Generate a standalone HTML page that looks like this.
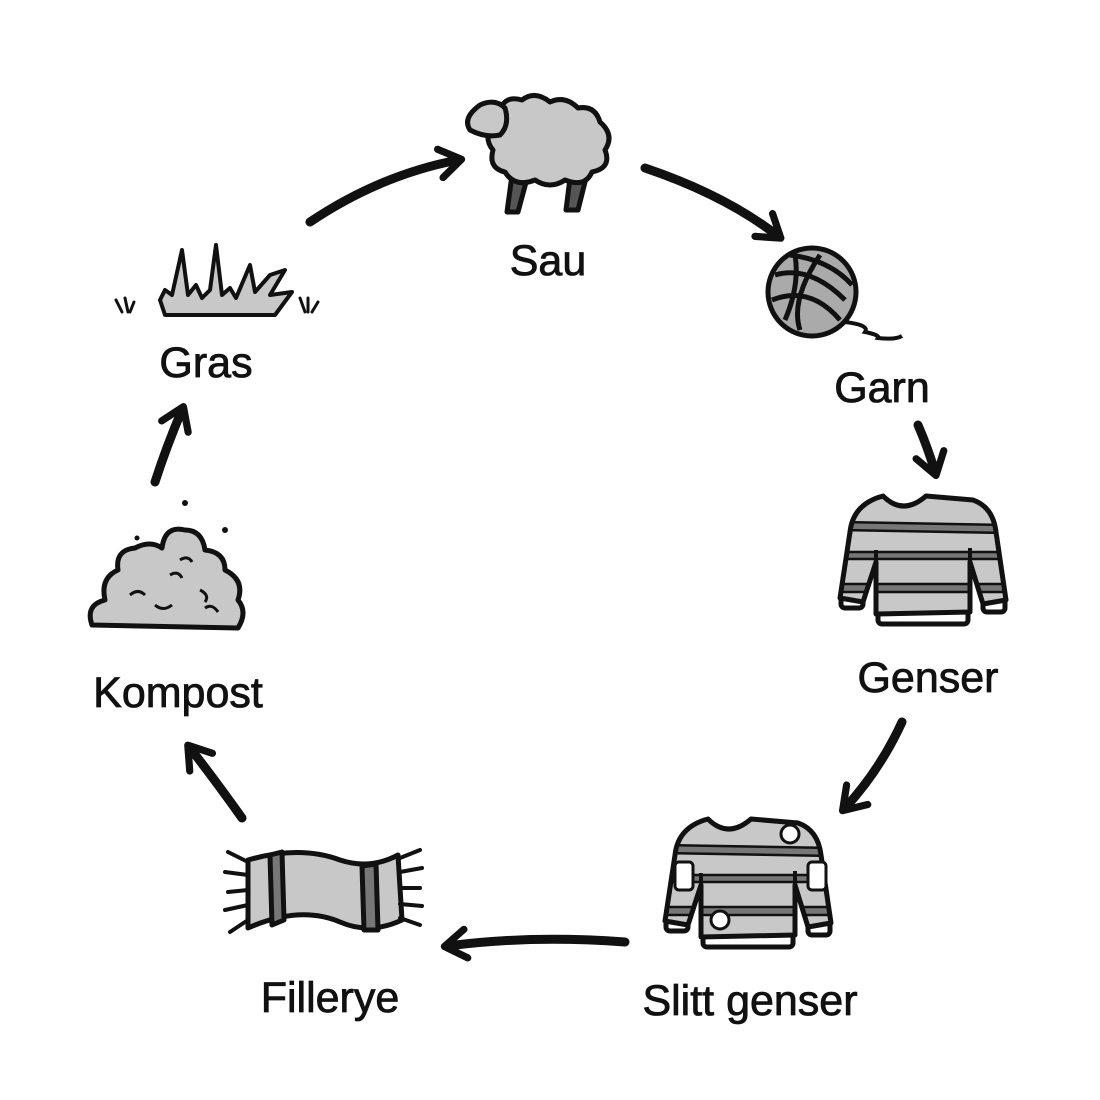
<!DOCTYPE html>
<html><head><meta charset="utf-8"><style>
html,body{margin:0;padding:0;background:#fff}
svg{display:block}
text{font-family:"Liberation Sans",sans-serif;font-size:43px;fill:#111;text-anchor:middle;stroke:#111;stroke-width:0.8}
</style></head><body>
<svg width="1100" height="1100" viewBox="0 0 1100 1100" xmlns="http://www.w3.org/2000/svg">
<defs>
<marker id="ah" viewBox="0 0 10 10" refX="6" refY="5" markerWidth="4" markerHeight="4" orient="auto">
<path d="M1,1 L7,5 L1,9" fill="none" stroke="#111" stroke-width="2" stroke-linecap="round" stroke-linejoin="round"/>
</marker>
<clipPath id="swc"><path d="M45,4 Q65,24 88,4 L135,8 Q155,15 158,40 L168,108 L145,112 L132,70 L132,120 L38,122 L38,70 L25,110 L2,106 L12,40 Q15,12 45,4 Z"/></clipPath>
<g id="sw">
<rect x="40" y="114" width="90" height="18" rx="4" fill="#fff" stroke="#111" stroke-width="5"/>
<rect x="3" y="100" width="22" height="16" rx="4" fill="#fff" stroke="#111" stroke-width="5"/>
<rect x="145" y="104" width="22" height="16" rx="4" fill="#fff" stroke="#111" stroke-width="5"/>
<path d="M45,4 Q65,24 88,4 L135,8 Q155,15 158,40 L168,108 L145,112 L132,70 L132,120 L38,122 L38,70 L25,110 L2,106 L12,40 Q15,12 45,4 Z" fill="#c8c8c8"/>
<g clip-path="url(#swc)" stroke="#111" stroke-width="2.5">
<path d="M0,30 L170,33 L170,41 L0,38 Z" fill="#777"/>
<path d="M0,60 L170,60 L170,67 L0,67 Z" fill="#777"/>
<path d="M0,92 L170,92 L170,100 L0,100 Z" fill="#777"/>
</g>
<path d="M45,4 Q65,24 88,4 L135,8 Q155,15 158,40 L168,108 L145,112 L132,70 L132,120 L38,122 L38,70 L25,110 L2,106 L12,40 Q15,12 45,4 Z" fill="none" stroke="#111" stroke-width="5" stroke-linejoin="round"/>
<path d="M38,58 L38,120 M132,56 L132,118" stroke="#111" stroke-width="4"/>
</g>
</defs>

<g stroke="#111" stroke-width="9" fill="none" stroke-linecap="round" marker-end="url(#ah)">
<path d="M310,222 Q380,175 458,160"/>
<path d="M645,168 Q725,195 778,236"/>
<path d="M918,425 Q928,448 935,472"/>
<path d="M902,722 Q880,770 845,808"/>
<path d="M625,942 Q530,935 448,946"/>
<path d="M242,818 Q215,780 190,748"/>
<path d="M155,482 Q167,445 182,410"/>
</g>

<!-- sheep -->
<g stroke="#111" stroke-width="5" stroke-linejoin="round">
<path d="M512,175 L507,212 L518,212 L528,175 Z M570,178 L566,210 L578,210 L586,178 Z" fill="#555"/>
<path d="M500,110 Q505,95 522,100 Q535,90 550,102 Q565,95 578,108 Q595,105 600,122 Q615,135 605,150 Q612,168 592,172 Q585,188 565,180 Q550,190 535,180 Q515,188 505,172 Q488,168 493,150 Q480,135 500,110 Z" fill="#c8c8c8"/>
<path d="M480,105 Q495,98 505,108 Q510,125 500,135 Q485,138 470,130 Q462,118 480,105 Z" fill="#c8c8c8"/>
</g>
<text x="548" y="275">Sau</text>

<!-- yarn -->
<g stroke="#111" stroke-width="5" fill="none">
<circle cx="812" cy="292" r="44" fill="#aaa"/>
<path d="M775,275 Q810,265 845,300 M772,300 Q810,285 840,320 M790,255 Q830,260 852,285 M800,330 Q790,300 820,255 M785,320 Q800,285 795,255"/>
<path d="M845,322 Q870,325 865,332 Q880,335 878,338 Q895,340 902,336" stroke-width="4"/>
</g>
<text x="882" y="402">Garn</text>

<use href="#sw" x="838" y="492"/>
<text x="928" y="692">Genser</text>

<use href="#sw" x="663" y="815"/>
<g stroke="#111" stroke-width="3" fill="#fff">
<circle cx="790" cy="834" r="9"/>
<circle cx="720" cy="920" r="9"/>
<rect x="675" y="862" width="18" height="28" rx="4"/>
<rect x="808" y="862" width="18" height="28" rx="4"/>
</g>
<text x="750" y="1015">Slitt genser</text>

<!-- scarf -->
<g stroke="#111" stroke-width="5" stroke-linejoin="round">
<path d="M248,860 Q300,845 340,860 Q370,870 398,855 L402,920 Q370,935 340,922 Q300,905 248,928 Z" fill="#c8c8c8"/>
<path d="M270,855 L272,925 L284,920 L282,852 Z M362,866 L364,930 L378,930 L376,864 Z" fill="#777"/>
<path d="M248,862 L228,852 M248,875 L225,872 M248,890 L228,892 M248,905 L225,910 M248,920 L230,932 M400,858 L420,850 M400,872 L422,868 M400,888 L420,888 M400,904 L422,906 M400,918 L420,925" fill="none" stroke-width="4" stroke-linecap="round"/>
</g>
<text x="330" y="1012">Fillerye</text>

<!-- compost -->
<g stroke="#111" stroke-width="5" stroke-linejoin="round">
<path d="M92,625 Q85,605 105,600 Q100,578 118,570 Q115,550 135,548 Q150,540 162,548 Q165,525 185,530 Q202,530 205,550 Q225,552 225,570 Q245,580 238,600 Q248,612 238,628 Z" fill="#c8c8c8"/>
<path d="M130,595 Q138,588 145,595 M155,605 Q163,612 172,605 M170,575 Q178,570 182,578 M200,590 Q210,595 205,602 M205,608 Q212,603 218,612 M180,560 Q188,555 192,562" fill="none" stroke-width="3"/>
</g>
<g fill="#111"><circle cx="185" cy="503" r="3"/><circle cx="225" cy="530" r="3"/><circle cx="137" cy="538" r="2.5"/></g>
<text x="178" y="707">Kompost</text>

<!-- grass -->
<g stroke="#111" stroke-width="4" stroke-linejoin="round">
<path d="M160,300 L165,290 L172,295 L182,250 L188,295 L196,285 L202,298 L210,290 L216,245 L222,295 L230,288 L236,298 L250,265 L255,292 L270,275 L285,270 L270,295 L292,292 L275,315 L165,315 Z" fill="#c8c8c8"/>
<path d="M116,300 L122,312 M125,298 L128,312 M134,302 L130,312 M300,298 L305,312 M308,298 L308,312 M318,302 L312,312" fill="none" stroke-width="3" stroke-linecap="round"/>
</g>
<text x="206" y="377">Gras</text>
</svg>
</body></html>
